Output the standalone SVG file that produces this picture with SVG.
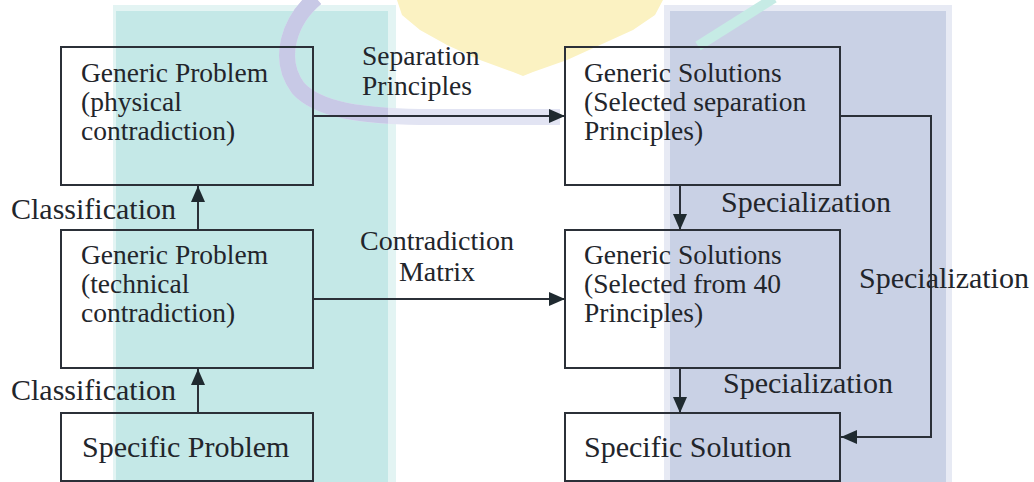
<svg xmlns="http://www.w3.org/2000/svg" width="1034" height="482" viewBox="0 0 1034 482">
  <style>
    .box { fill: none; stroke: #2b3038; stroke-width: 2; }
    .edge { fill: none; stroke: #2b3038; stroke-width: 2; }
    .t { font-family: "Liberation Serif", "Times New Roman", serif; fill: #22252b; }
    .bt { font-size: 27.5px; }
    .lt { font-size: 30px; }
    .mt { font-size: 27.5px; }
  </style>
  <defs>
    <marker id="ah" viewBox="0 0 16 14" refX="16" refY="7" markerWidth="16" markerHeight="14" markerUnits="userSpaceOnUse" orient="auto">
      <path d="M0,0 L16,7 L0,14 z" fill="#1f2a30"/>
    </marker>
    <clipPath id="tealclip">
      <rect x="116" y="0" width="272" height="482"/>
    </clipPath>
  </defs>
  <rect width="1034" height="482" fill="#ffffff"/>
  <g id="watermark">
    <rect x="113" y="5" width="283" height="477" fill="#e3f4f3"/>
    <rect x="116" y="11" width="272" height="471" fill="#c4e8e7"/>
    <rect x="664" y="5" width="288" height="477" fill="#e7eaf4"/>
    <rect x="670" y="11" width="276" height="471" fill="#c9d1e5"/>
    <path d="M397,0 L663,0 L655,15 L633,30 L600,45 L567,60 L533,72 L523,76 L513,72 L480,60 L447,45 L420,30 L402,15 Z" fill="#fbf2c2"/>
    <path d="M316,-2 C290,20 276,58 298,88 C318,110 360,116 420,117 L560,117" fill="none" stroke="#e2e4f3" stroke-width="16"/>
    <path d="M316,-2 C290,20 276,58 298,88 C318,110 360,116 420,117 L560,117" fill="none" stroke="#c8c9e6" stroke-width="16" clip-path="url(#tealclip)"/>
    <path d="M774,-2 L698,46" fill="none" stroke="#c6ebe5" stroke-width="10"/>
  </g>
  <g id="connectors">
    <line class="edge" x1="313" y1="116" x2="565" y2="116" marker-end="url(#ah)"/>
    <line class="edge" x1="313" y1="299" x2="565" y2="299" marker-end="url(#ah)"/>
    <line class="edge" x1="198" y1="230" x2="198" y2="186" marker-end="url(#ah)"/>
    <line class="edge" x1="198" y1="413" x2="198" y2="369" marker-end="url(#ah)"/>
    <line class="edge" x1="680" y1="185" x2="680" y2="230" marker-end="url(#ah)"/>
    <line class="edge" x1="680" y1="368" x2="680" y2="413" marker-end="url(#ah)"/>
    <polyline class="edge" points="840,116 931,116 931,437 841,437" marker-end="url(#ah)"/>
    <text class="t mt" x="362" y="65">Separation</text>
    <text class="t mt" x="362" y="95">Principles</text>
    <text class="t" font-size="28" x="437" y="250" text-anchor="middle">Contradiction</text>
    <text class="t" font-size="28" x="437" y="281" text-anchor="middle">Matrix</text>
    <text class="t lt" x="11" y="219">Classification</text>
    <text class="t lt" x="11" y="400">Classification</text>
    <text class="t lt" x="721" y="212">Specialization</text>
    <text class="t lt" x="723" y="393">Specialization</text>
    <text class="t lt" x="859" y="288">Specialization</text>
  </g>
  <g id="generic-problem-physical">
    <rect class="box" x="61" y="47" width="252" height="138"/>
    <text class="t bt" x="81" y="82">Generic Problem</text>
    <text class="t bt" x="81" y="111">(physical</text>
    <text class="t bt" x="81" y="140">contradiction)</text>
  </g>
  <g id="generic-problem-technical">
    <rect class="box" x="61" y="230" width="252" height="138"/>
    <text class="t bt" x="81" y="264">Generic Problem</text>
    <text class="t bt" x="81" y="293">(technical</text>
    <text class="t bt" x="81" y="322">contradiction)</text>
  </g>
  <g id="specific-problem">
    <rect class="box" x="61" y="413" width="252" height="68"/>
    <text class="t lt" x="82" y="457">Specific Problem</text>
  </g>
  <g id="generic-solutions-separation">
    <rect class="box" x="565" y="47" width="275" height="138"/>
    <text class="t bt" x="584" y="82">Generic Solutions</text>
    <text class="t bt" x="584" y="111">(Selected separation</text>
    <text class="t bt" x="584" y="140">Principles)</text>
  </g>
  <g id="generic-solutions-40">
    <rect class="box" x="565" y="230" width="275" height="138"/>
    <text class="t bt" x="584" y="264">Generic Solutions</text>
    <text class="t bt" x="584" y="293">(Selected from 40</text>
    <text class="t bt" x="584" y="322">Principles)</text>
  </g>
  <g id="specific-solution">
    <rect class="box" x="565" y="413" width="275" height="68"/>
    <text class="t lt" x="584" y="457">Specific Solution</text>
  </g>
</svg>
